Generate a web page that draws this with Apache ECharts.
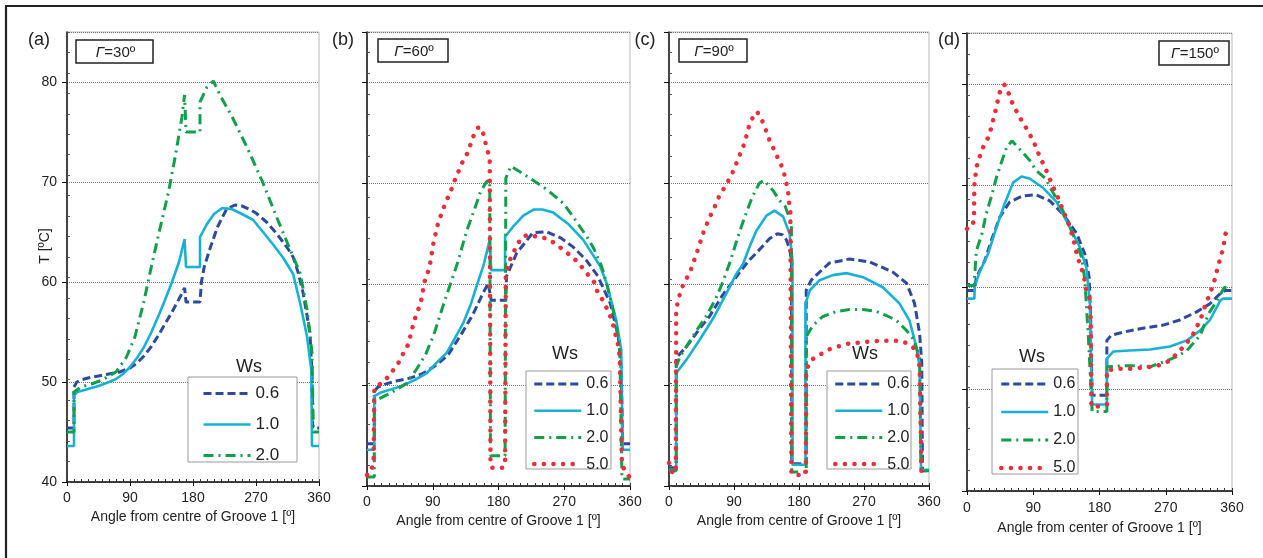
<!DOCTYPE html>
<html>
<head>
<meta charset="utf-8">
<script src="https://cdn.jsdelivr.net/npm/echarts@6.0.0/dist/echarts.min.js"></script>
<style>
  html, body { margin: 0; background: #fff; }
  #chart { width: 1263px; height: 558px; }
</style>
</head>
<body>
<div id="chart"></div>
<script>
// tick labels
const angleTicks = [0, 90, 180, 270, 360];
const wsNames = ['0.6', '1.0', '2.0', '5.0'];
const gammaLabels = ['30º', '60º', '90º', '150º'];
const panelTags = ['(a)', '(b)', '(c)', '(d)'];

// (a) Γ=30º  [angle, T]
const a06 = [[0,45.4],[10,45.4],[10,49.5],[14,50.0],[20,50.2],[30,50.4],[45,50.6],[60,50.8],[75,51.0],[90,51.4],[100,51.9],[110,52.6],[120,53.5],[130,54.6],[140,55.8],[150,57.0],[160,58.3],[168,59.4],[170,58.0],[190,58.0],[192,60.0],[196,61.5],[205,63.5],[215,65.5],[228,67.3],[240,67.7],[250,67.6],[260,67.3],[270,66.9],[285,66.0],[300,64.8],[315,63.4],[323,62.5],[330,61.0],[337,59.0],[342,57.0],[347,55.0],[350,51.0],[351,45.4],[360,45.4]];
const a10 = [[0,43.6],[10,43.6],[10,48.7],[15,49.0],[25,49.2],[45,49.6],[60,50.0],[70,50.3],[80,50.8],[90,51.5],[100,52.4],[110,53.5],[120,54.9],[130,56.5],[140,58.2],[150,60.0],[160,62.0],[168,64.3],[170,61.5],[190,61.5],[190,64.5],[200,65.8],[210,66.8],[222,67.4],[235,67.3],[250,66.8],[266,66.2],[280,65.0],[295,63.7],[309,62.4],[323,60.8],[333,57.9],[343,54.5],[349,51.2],[350,43.6],[360,43.6]];
const a20 = [[0,45.0],[10,45.0],[10,49.0],[20,49.5],[35,49.8],[50,50.2],[70,51.0],[85,52.5],[97,54.5],[110,58.1],[121,61.7],[133,65.4],[145,69.0],[155,72.7],[164,76.4],[168,78.7],[170,75.0],[190,75.0],[190,78.0],[200,79.5],[209,80.1],[220,78.5],[236,76.5],[259,73.2],[280,69.9],[300,66.4],[319,63.2],[333,60.9],[343,57.2],[350,52.9],[352,45.0],[360,45.0]];

// (b) Γ=60º
const b06 = [[0,44.2],[10,44.2],[10,49.4],[15,49.8],[25,50.1],[40,50.4],[59,50.7],[75,51.1],[91,51.8],[100,52.3],[111,53.0],[127,54.8],[145,57.0],[158,59.0],[166,60.1],[170,58.4],[190,58.4],[191,60.8],[205,63.1],[227,65.1],[246,65.2],[265,64.6],[282,63.7],[300,62.4],[316,60.8],[333,58.1],[344,54.8],[348,51.5],[350,44.2],[360,44.2]];
const b10 = [[0,43.6],[10,43.6],[10,48.9],[20,49.3],[45,49.85],[65,50.5],[82,51.2],[95,52.2],[109,53.2],[120,54.6],[132,56.2],[142,58.0],[150,59.8],[160,62.0],[168,64.4],[170,61.4],[189,61.4],[189,64.7],[200,65.7],[214,66.8],[228,67.4],[240,67.4],[255,67.1],[275,66.0],[296,64.4],[319,61.8],[328,60.1],[341,56.5],[348,53.5],[350,43.6],[360,43.6]];
const b20 = [[0,40.9],[10,40.9],[10,48.2],[15,48.6],[32,49.2],[55,50.2],[68,51.6],[80,53.0],[91,54.9],[107,58.5],[123,61.9],[137,65.4],[148,67.6],[155,69.1],[164,70.2],[168,70.3],[169,43.0],[189,43.0],[190,70.5],[197,71.7],[219,70.7],[246,69.4],[269,68.0],[282,66.7],[301,64.7],[310,63.6],[321,61.8],[328,60.1],[340,56.5],[346,53.8],[349,40.7],[360,40.7]];
const b50 = [[0,41.1],[5,41.3],[9,42.5],[10,49.7],[16,50.0],[25,50.5],[34,51.3],[43,52.2],[50,53.2],[57,54.1],[60,55.1],[64,56.2],[68,57.1],[73,58.0],[76,59.1],[78,60.1],[83,61.1],[86.5,62.1],[91,64.1],[97.5,66.1],[107,68.0],[114,69.1],[119,70.1],[130,72.0],[139,73.2],[143,74.2],[148,75.1],[152,75.5],[157,75.5],[164,73.5],[168,72.5],[169,42.0],[171,41.8],[185,41.8],[189,42.0],[190,61.0],[197,62.7],[211,64.6],[220,64.9],[234,64.7],[248,64.5],[260,63.9],[272,63.2],[283,62.6],[293,61.8],[303,60.9],[311,60.2],[316,59.1],[324,58.3],[330,57.3],[336,56.3],[339,55.3],[343,54.3],[346,52.8],[349,42.0],[351,41.8],[357,41.1],[360,40.8]];

// (c) Γ=90º
const c06 = [[0,41.8],[10,41.8],[10,52.7],[24,53.8],[42.5,55.6],[56,56.8],[74,58.9],[93,60.7],[98,61.2],[110,62.3],[121,63.1],[139,64.5],[150,65.0],[157,64.9],[162.5,64.4],[167,63.5],[169.5,62.4],[170,42.2],[190,42.2],[190,59.4],[197,60.4],[204,60.9],[222,62.1],[250,62.5],[278,62.2],[310,61.2],[329,60.1],[340,58.1],[347,55.1],[350,52.2],[351,41.5],[360,41.5]];
const c10 = [[0,41.6],[10,41.6],[10,51.2],[24,52.5],[42.5,54.5],[61,56.6],[79.5,59.1],[93,61.0],[102.5,62.0],[112,63.8],[121,65.3],[135,66.8],[146,67.3],[158,66.7],[167,65.0],[171,62.4],[171,42.1],[189,42.1],[189,58.1],[195,59.4],[208.6,60.4],[227,60.9],[245.6,61.1],[268.6,60.7],[296,59.7],[319,58.1],[333,56.4],[342.5,53.8],[347,51.8],[349,41.6],[360,41.6]];
const c20 = [[0,41.5],[10,41.5],[10,51.8],[15,52.8],[38,55.4],[52,56.9],[65,58.6],[75,60.3],[85,62.3],[95,64.6],[105,66.7],[115,68.6],[125,70.0],[131.5,70.3],[144,69.3],[153,68.3],[161,67.7],[169.5,66.0],[170,41.4],[190,41.4],[190,54.8],[199,55.9],[213,56.8],[232,57.3],[250,57.5],[268.6,57.5],[287,57.3],[301,56.9],[315,56.4],[329,55.4],[338,54.6],[347,52.8],[349,41.5],[360,41.5]];
const c50 = [[0,42.3],[5.5,41.2],[9.5,41.5],[10,57.5],[13,58.5],[17,59.5],[22,60.3],[28.6,61.1],[33,62.0],[38,63.0],[42.5,64.0],[47,65.0],[52.6,66.0],[58.7,67.0],[64,67.8],[70,68.8],[77,69.6],[84,70.5],[91,71.5],[94.7,72.3],[101,73.3],[106,74.3],[109,75.3],[114,76.3],[122,77.1],[129,76.2],[134,75.3],[139,74.3],[145,73.4],[152,72.3],[158,71.4],[161.5,70.3],[164.8,69.3],[165.6,68.4],[168,67.3],[169.5,41.2],[176,41.1],[184,41.1],[189.5,41.2],[190,51.5],[197,52.5],[208.6,53.0],[220,53.5],[232.6,53.8],[248,54.1],[261.7,54.2],[275.5,54.3],[291,54.4],[305.6,54.4],[319,54.4],[332,54.1],[343,53.4],[347,51.8],[349.5,41.5],[354,42.2]];

// (d) Γ=150º
const d06 = [[0,59.7],[10,59.7],[12.7,61.0],[24,62.6],[33,64.6],[44.5,66.9],[58,68.4],[76,69.0],[94,69.1],[112.5,68.5],[130.6,67.2],[149,65.3],[160,63.3],[166,61.0],[168,57.0],[170,49.4],[190,49.4],[190,54.8],[196,55.3],[212,55.6],[239,56.0],[266.6,56.3],[289,56.8],[312,57.6],[330,58.4],[344,59.4],[351,59.7],[360,59.7]];
const d10 = [[0,58.9],[10,58.9],[10.5,60.1],[17,61.5],[28.6,63.3],[40,65.9],[51,68.2],[62.6,70.3],[74,70.9],[85,70.7],[103,69.8],[121.6,68.4],[139.7,65.9],[153,64.0],[162,62.0],[167,58.4],[170,48.5],[190,48.5],[190,53.0],[198.6,53.7],[221,53.8],[248.5,53.9],[275.7,54.2],[298.8,54.8],[317,55.8],[330,56.8],[344,58.7],[348,58.9],[360,58.9]];
const d20 = [[0,60.2],[10,60.2],[10,60.7],[12.7,63.6],[20.4,65.3],[26,67.2],[33,68.9],[40,70.8],[46.8,72.3],[54,73.8],[61,74.4],[74,73.4],[85,72.5],[94,71.5],[106.6,70.7],[117,69.3],[128,67.9],[140,65.9],[149,64.3],[155.5,63.0],[160,60.8],[165,55.0],[170,47.8],[190,47.8],[190,52.2],[212,52.3],[233,52.3],[248.5,52.2],[271,52.8],[285,53.2],[298.8,53.8],[317,55.3],[328,57.4],[339.6,58.7],[349.5,60.0],[353,60.0]];
const d50 = [[0,65.75],[8,66.1],[9.5,67.2],[10,70.0],[12.7,71.8],[17,72.8],[22,73.8],[28.6,74.7],[33,75.7],[36.7,76.8],[40,77.7],[43,78.8],[47,79.8],[51,79.9],[55,79.4],[59.8,78.4],[66.6,77.4],[73.3,76.5],[81,75.6],[87.8,74.7],[93.7,73.8],[99,72.8],[106,71.8],[111,70.9],[117,69.9],[123,68.9],[128,68.0],[133,67.1],[139,66.1],[143,65.1],[147,64.0],[150,63.0],[155,62.0],[159,61.0],[161,60.0],[166,59.0],[168,57.0],[169,48.3],[180,48.3],[190,48.5],[190,51.9],[194,51.9],[205.6,52.0],[220,52.0],[235,52.1],[249.6,52.2],[263,52.4],[275.5,52.8],[286.7,53.6],[297,54.4],[305.6,55.2],[311.5,56.0],[318,57.0],[323,58.1],[328,59.05],[333,60.0],[337.5,61.0],[341,62.1],[344.7,63.0],[348.7,64.0],[350,65.1],[354.6,65.75]];

const font = '"Liberation Sans", Arial, sans-serif';

const wsStyle = {
  '0.6': { color: '#2e4a9c', width: 3, type: [8, 4] },
  '1.0': { color: '#18b1d6', width: 2.6, type: 'solid' },
  '2.0': { color: '#10a04a', width: 3, type: [10, 5, 2, 5] },
  '5.0': { color: '#ee2d3a', width: 4.5, type: [0.1, 9.5], cap: 'round' }
};

const panels = [
  { grid: { left: 67, top: 32, width: 252, height: 450 }, data: [a06, a10, a20],
    xName: 'Angle from centre of Groove 1 [º]', labelGap: 9, nameGap: 27,
    box: [188, 377, 109, 85], legend: [202, 385, 14, 17], ws: [249, 367],
    gamma: [76, 40, 77, 23], tag: [39, 40] },
  { grid: { left: 367, top: 32, width: 263, height: 454 }, data: [b06, b10, b20, b50],
    xName: 'Angle from centre of Groove 1 [º]', labelGap: 9, nameGap: 27,
    box: [526, 371, 85, 98], legend: [532, 376, 10.7, 16], ws: [565, 354],
    gamma: [378, 39, 70, 23], tag: [343, 40] },
  { grid: { left: 669, top: 32, width: 260, height: 454 }, data: [c06, c10, c20, c50],
    xName: 'Angle from centre of Groove 1 [º]', labelGap: 9, nameGap: 27,
    box: [827, 371, 84, 98], legend: [833, 376, 10.7, 16], ws: [865, 354],
    gamma: [679, 39, 68, 23], tag: [645, 40] },
  { grid: { left: 967, top: 33, width: 265, height: 458 }, data: [d06, d10, d20, d50],
    xName: 'Angle from center of Groove 1 [º]', labelGap: 10, nameGap: 30,
    box: [992, 369, 86, 105], legend: [999, 376, 12, 16], ws: [1032, 357],
    gamma: [1159, 41, 70, 24], tag: [949, 40] }
];

const option = {
  animation: false,
  backgroundColor: '#fff',
  textStyle: { fontFamily: font },
  grid: [], xAxis: [], yAxis: [], series: [], legend: [], graphic: []
};

panels.forEach((p, i) => {
  option.grid.push(Object.assign({ show: true, borderColor: '#b8b8b8', borderWidth: 1, backgroundColor: 'transparent' }, p.grid));
  option.xAxis.push({
    type: 'value', gridIndex: i, position: 'bottom', min: 0, max: 360, interval: 90,
    name: p.xName, nameLocation: 'middle', nameGap: p.nameGap,
    nameTextStyle: { fontSize: 14, color: '#222', fontFamily: font },
    axisLine: { lineStyle: { color: '#111', width: 1.5 } },
    axisTick: { length: 4, lineStyle: { color: '#111' } },
    axisLabel: { fontSize: 14, color: '#222', margin: p.labelGap, fontFamily: font,
      formatter: v => angleTicks.indexOf(v) >= 0 ? String(v) : '' },
    splitLine: { show: false }
  });
  option.yAxis.push({
    type: 'value', gridIndex: i, position: 'left', min: 40, max: 85, interval: 10,
    axisLine: { show: true, lineStyle: { color: '#111', width: 1.5 } },
    axisTick: { show: true, length: 5, lineStyle: { color: '#111' } },
    axisLabel: { show: i === 0, fontSize: 14, color: '#222', margin: 10, fontFamily: font, showMaxLabel: false },
    splitLine: { show: true, lineStyle: { color: '#777', type: [1, 1], width: 1 } }
  });
  const names = wsNames.slice(0, p.data.length);
  p.data.forEach((d, k) => {
    const st = wsStyle[names[k]];
    option.series.push({
      type: 'line', name: names[k], xAxisIndex: i, yAxisIndex: i,
      data: d, symbol: 'none', showSymbol: false, smooth: false,
      lineStyle: { color: st.color, width: st.width, type: st.type, cap: st.cap || 'butt' },
      itemStyle: { color: st.color },
      z: 2 + k
    });
  });
  option.legend.push({
    orient: 'vertical', left: p.legend[0], top: p.legend[1], padding: 0,
    itemWidth: 47, itemHeight: 14, itemGap: p.legend[2],
    data: names.map(n => ({
      name: n,
      lineStyle: { width: wsStyle[n].width, type: wsStyle[n].type, cap: wsStyle[n].cap || 'butt', color: wsStyle[n].color }
    })),
    selectedMode: false, z: 10,
    itemStyle: { opacity: 0 },
    textStyle: { fontSize: p.legend[3], color: '#222', fontFamily: font, lineHeight: 14 }
  });
  // legend frame, Ws title, Γ box, panel tag
  option.graphic.push(
    { type: 'rect', z: 8, shape: { x: p.box[0], y: p.box[1], width: p.box[2], height: p.box[3] },
      style: { fill: '#fff', stroke: '#9a9a9a', lineWidth: 1 } },
    { type: 'text', z: 8, x: p.ws[0], y: p.ws[1],
      style: { text: 'Ws', fill: '#222', font: '18px ' + font, align: 'center', verticalAlign: 'middle' } },
    { type: 'rect', z: 8, shape: { x: p.gamma[0], y: p.gamma[1], width: p.gamma[2], height: p.gamma[3] },
      style: { fill: '#fff', stroke: '#222', lineWidth: 1.5 } },
    { type: 'text', z: 9, x: p.gamma[0] + p.gamma[2] / 2 + 1, y: p.gamma[1] + p.gamma[3] / 2 + 1,
      style: { text: '{g|Γ}=' + gammaLabels[i], fill: '#222', font: '15px ' + font,
        align: 'center', verticalAlign: 'middle',
        rich: { g: { fontStyle: 'italic', fontSize: 15, fontFamily: font, fill: '#222' } } } },
    { type: 'text', z: 8, x: p.tag[0], y: p.tag[1],
      style: { text: panelTags[i], fill: '#222', font: '18px ' + font, align: 'center', verticalAlign: 'middle' } }
  );
});

// minor ticks (inside), one overlay axis pair per panel
panels.forEach((p, i) => {
  option.xAxis.push({
    type: 'value', gridIndex: i, position: 'bottom', min: 0, max: 360, interval: 10,
    axisLine: { show: false }, axisLabel: { show: false }, splitLine: { show: false },
    axisTick: { inside: true, length: 3, lineStyle: { color: '#333' } }
  });
  option.yAxis.push({
    type: 'value', gridIndex: i, position: 'left', min: 40, max: 84, interval: 2,
    axisLine: { show: false }, axisLabel: { show: false }, splitLine: { show: false },
    axisTick: { inside: true, length: 3, lineStyle: { color: '#555' } }
  });
});

// y axis title of (a) and outer frame
option.graphic.push(
  { type: 'text', z: 8, x: 45, y: 246, rotation: Math.PI / 2,
    style: { text: 'T [ºC]', fill: '#222', font: '14px ' + font, align: 'center', verticalAlign: 'middle' } },
  { type: 'line', z: 8, shape: { x1: 5, y1: 6, x2: 1263, y2: 6 }, style: { stroke: '#222', lineWidth: 2.2 } },
  { type: 'line', z: 8, shape: { x1: 6, y1: 5, x2: 6, y2: 558 }, style: { stroke: '#222', lineWidth: 2.2 } }
);

const chart = echarts.init(document.getElementById('chart'), null, { renderer: 'canvas' });
chart.setOption(option);
</script>
</body>
</html>
